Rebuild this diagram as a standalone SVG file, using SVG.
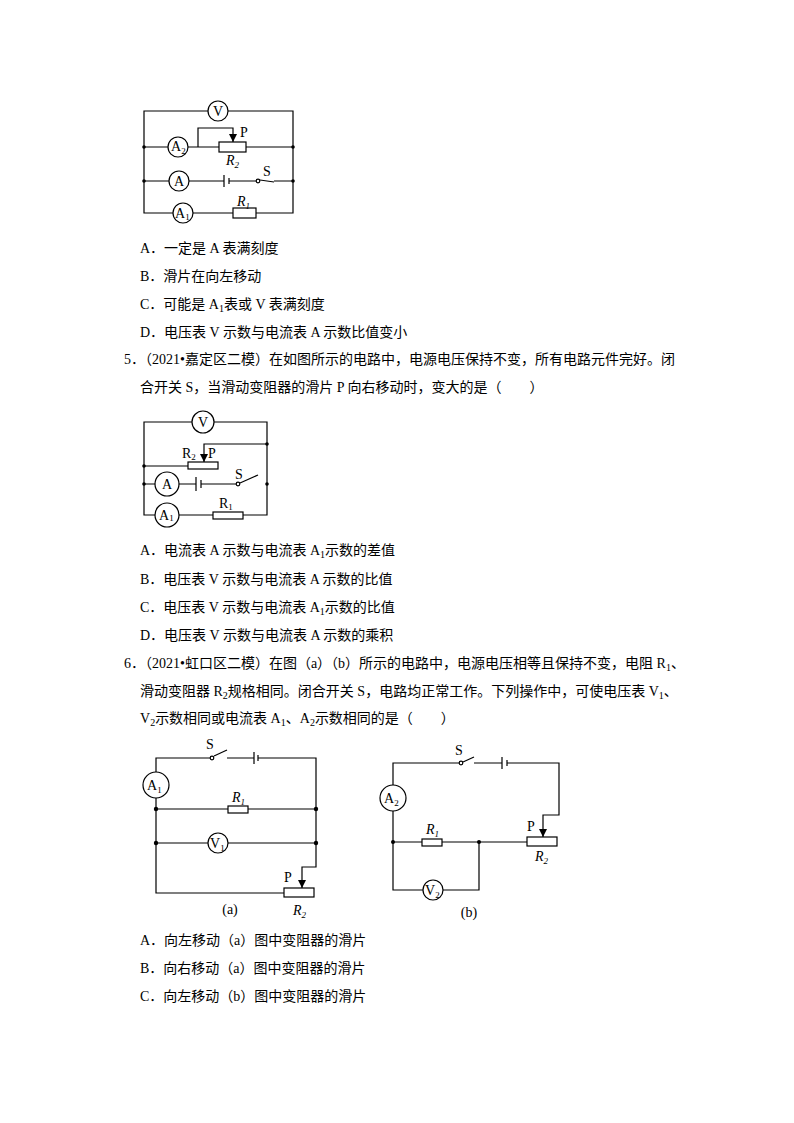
<svg xmlns="http://www.w3.org/2000/svg" width="794" height="1123" viewBox="0 0 794 1123">
<defs>
<style>
.w{fill:none;stroke:#000;stroke-width:1.2}
.m{fill:#fff;stroke:#000;stroke-width:1.2}
.l{font-family:"Liberation Serif",serif;font-size:14px;fill:#000}
.i{font-style:italic}
.s{font-size:9px}
.q{font-family:"Liberation Serif","Noto Sans CJK SC",serif;font-size:14px;fill:#000}
</style>
<marker id="ar" viewBox="0 0 10 10" refX="10" refY="5" markerWidth="7" markerHeight="7" orient="auto"><path d="M0,0 L10,5 L0,10 z"/></marker>
</defs>
<rect width="794" height="1123" fill="#fff"/>

<!-- Figure 1 -->
<g id="fig1">
<g id="fig1-wires">
<path class="w" d="M144,111 H293 V213 H144 Z"/>
<path class="w" d="M144,147 H219 M246,147 H293"/>
<path class="w" d="M198,147 V128 H233 V142" marker-end="url(#ar)"/>
<path class="w" d="M144,181 H224 M229,181 H258 M274,181 H293"/>
<path class="w" d="M224,175 V187 M229,178 V184"/>
<path class="w" d="M260,180 L274,182"/>
<circle cx="144" cy="147" r="1.8"/><circle cx="144" cy="181" r="1.8"/>
<circle cx="293" cy="147" r="1.8"/><circle cx="293" cy="181" r="1.8"/>
</g>
<g id="f1-V"><circle class="m" cx="218" cy="111" r="10"/><text class="l" x="218" y="116" text-anchor="middle">V</text></g>
<g id="f1-A2"><circle class="m" cx="178" cy="147" r="10"/><text class="l" x="171" y="151">A<tspan class="s" dy="3">2</tspan></text></g>
<g id="f1-R2"><rect class="m" x="219" y="142" width="27" height="10"/><text class="l" x="240" y="137">P</text><text class="l i" x="226" y="165">R<tspan class="s" dy="3">2</tspan></text></g>
<g id="f1-A"><circle class="m" cx="179" cy="181" r="10"/><text class="l" x="179" y="186" text-anchor="middle">A</text></g>
<g id="f1-S"><circle class="m" cx="258" cy="181" r="1.8"/><text class="l" x="263" y="176">S</text></g>
<g id="f1-A1"><circle class="m" cx="183" cy="213" r="10"/><text class="l" x="175" y="218">A<tspan class="s" dy="2">1</tspan></text></g>
<g id="f1-R1"><rect class="m" x="233" y="208" width="23" height="10"/><text class="l i" x="237" y="206">R<tspan class="s" dy="3">1</tspan></text></g>
</g>

<text class="q" x="140" y="253">A．一定是 A 表满刻度</text>
<text class="q" x="140" y="281">B．滑片在向左移动</text>
<text class="q" x="140" y="309">C．可能是 A<tspan font-size="10" dy="3">1</tspan><tspan dy="-3">表或 V 表满刻度</tspan></text>
<text class="q" x="140" y="337">D．电压表 V 示数与电流表 A 示数比值变小</text>
<text class="q" x="124" y="364">5．（2021•嘉定区二模）在如图所示的电路中，电源电压保持不变，所有电路元件完好。闭</text>
<text class="q" x="140" y="392">合开关 S，当滑动变阻器的滑片 P 向右移动时，变大的是（　　）</text>

<!-- Figure 2 -->
<g id="fig2">
<g id="fig2-wires">
<path class="w" d="M144,422 H267 V515 H144 Z"/>
<path class="w" d="M267,444 H204 V462" marker-end="url(#ar)"/>
<path class="w" d="M144,466 H188"/>
<path class="w" d="M144,484 H196 M201,484 H238"/>
<path class="w" d="M196,477 V491 M201,480 V488"/>
<path class="w" d="M240,483 L258,475"/>
<circle cx="144" cy="466" r="1.8"/><circle cx="144" cy="484" r="1.8"/>
<circle cx="267" cy="444" r="1.8"/><circle cx="267" cy="484" r="1.8"/>
</g>
<g id="f2-V"><circle class="m" cx="203" cy="422" r="11"/><text class="l" x="203" y="427" text-anchor="middle">V</text></g>
<g id="f2-R2"><rect class="m" x="188" y="462" width="30" height="7"/><text class="l" x="182" y="458">R<tspan class="s" dy="2">2</tspan></text><text class="l" x="208" y="458">P</text></g>
<g id="f2-A"><circle class="m" cx="167" cy="484" r="12"/><text class="l" x="167" y="489" text-anchor="middle">A</text></g>
<g id="f2-S"><circle class="m" cx="238" cy="484" r="1.8"/><text class="l" x="235" y="479">S</text></g>
<g id="f2-A1"><circle class="m" cx="167" cy="515" r="12"/><text class="l" x="159" y="520">A<tspan class="s" dy="1">1</tspan></text></g>
<g id="f2-R1"><rect class="m" x="213" y="512" width="30" height="7"/><text class="l" x="219" y="508">R<tspan class="s" dy="2">1</tspan></text></g>
</g>

<text class="q" x="140" y="555">A．电流表 A 示数与电流表 A<tspan font-size="10" dy="3">1</tspan><tspan dy="-3">示数的差值</tspan></text>
<text class="q" x="140" y="584">B．电压表 V 示数与电流表 A 示数的比值</text>
<text class="q" x="140" y="612">C．电压表 V 示数与电流表 A<tspan font-size="10" dy="3">1</tspan><tspan dy="-3">示数的比值</tspan></text>
<text class="q" x="140" y="640">D．电压表 V 示数与电流表 A 示数的乘积</text>
<text class="q" x="124" y="668">6．（2021•虹口区二模）在图（a）（b）所示的电路中，电源电压相等且保持不变，电阻 R<tspan font-size="10" dy="3">1</tspan><tspan dy="-3">、</tspan></text>
<text class="q" x="140" y="696">滑动变阻器 R<tspan font-size="10" dy="3">2</tspan><tspan dy="-3">规格相同。闭合开关 S，电路均正常工作。下列操作中，可使电压表 V</tspan><tspan font-size="10" dy="3">1</tspan><tspan dy="-3">、</tspan></text>
<text class="q" x="140" y="723">V<tspan font-size="10" dy="3">2</tspan><tspan dy="-3">示数相同或电流表 A</tspan><tspan font-size="10" dy="3">1</tspan><tspan dy="-3">、A</tspan><tspan font-size="10" dy="3">2</tspan><tspan dy="-3">示数相同的是（　　）</tspan></text>

<!-- Figure 3a -->
<g id="fig3a">
<g id="fig3a-wires">
<path class="w" d="M156,772 V758 H212 M227,758 H254 M258,758 H316 V867 H302 V888" marker-end="url(#ar)"/>
<path class="w" d="M254,752 V764 M258,755 V761"/>
<path class="w" d="M214,756 L227,750"/>
<path class="w" d="M156,798 V893 H284"/>
<path class="w" d="M156,809 H228 M248,809 H316"/>
<path class="w" d="M156,843 H208 M228,843 H316"/>
<circle cx="156" cy="809" r="2.2"/><circle cx="316" cy="809" r="2.2"/>
<circle cx="156" cy="843" r="2.2"/><circle cx="316" cy="843" r="2.2"/>
</g>
<g id="f3a-S"><circle class="m" cx="212" cy="758" r="1.8"/><text class="l" x="206" y="749">S</text></g>
<g id="f3a-A1"><circle class="m" cx="156" cy="785" r="13"/><text class="l" x="147" y="790">A<tspan class="s" dy="3">1</tspan></text></g>
<g id="f3a-R1"><rect class="m" x="228" y="806" width="20" height="7"/><text class="l i" x="232" y="802">R<tspan class="s" dy="3">1</tspan></text></g>
<g id="f3a-V1"><circle class="m" cx="218" cy="843" r="10"/><text class="l" x="210" y="848">V<tspan class="s" dy="3">1</tspan></text></g>
<g id="f3a-R2"><rect class="m" x="284" y="888" width="30" height="9"/><text class="l" x="284" y="882">P</text><text class="l i" x="293" y="915">R<tspan class="s" dy="3">2</tspan></text></g>
<text class="l" x="230" y="914" text-anchor="middle">(a)</text>
</g>

<!-- Figure 3b -->
<g id="fig3b">
<g id="fig3b-wires">
<path class="w" d="M393,785 V763 H461 M474,763 H502 M507,763 H559 V815 H543 V837" marker-end="url(#ar)"/>
<path class="w" d="M502,757 V769 M507,760 V766"/>
<path class="w" d="M463,762 L474,757"/>
<path class="w" d="M393,811 V890 H423 M443,890 H479 V842"/>
<path class="w" d="M393,842 H422 M442,842 H527"/>
<circle cx="393" cy="842" r="2"/><circle cx="479" cy="842" r="2"/>
</g>
<g id="f3b-S"><circle class="m" cx="461" cy="763" r="1.8"/><text class="l" x="455" y="755">S</text></g>
<g id="f3b-A2"><circle class="m" cx="393" cy="798" r="13"/><text class="l" x="384" y="803">A<tspan class="s" dy="3">2</tspan></text></g>
<g id="f3b-R1"><rect class="m" x="422" y="839" width="20" height="7"/><text class="l i" x="426" y="834">R<tspan class="s" dy="3">1</tspan></text></g>
<g id="f3b-R2"><rect class="m" x="527" y="837" width="30" height="9"/><text class="l" x="527" y="831">P</text><text class="l i" x="535" y="861">R<tspan class="s" dy="3">2</tspan></text></g>
<g id="f3b-V2"><circle class="m" cx="433" cy="890" r="10"/><text class="l" x="425" y="895">V<tspan class="s" dy="3">2</tspan></text></g>
<text class="l" x="469" y="917" text-anchor="middle">(b)</text>
</g>

<text class="q" x="140" y="945">A．向左移动（a）图中变阻器的滑片</text>
<text class="q" x="140" y="973">B．向右移动（a）图中变阻器的滑片</text>
<text class="q" x="140" y="1001">C．向左移动（b）图中变阻器的滑片</text>
</svg>
